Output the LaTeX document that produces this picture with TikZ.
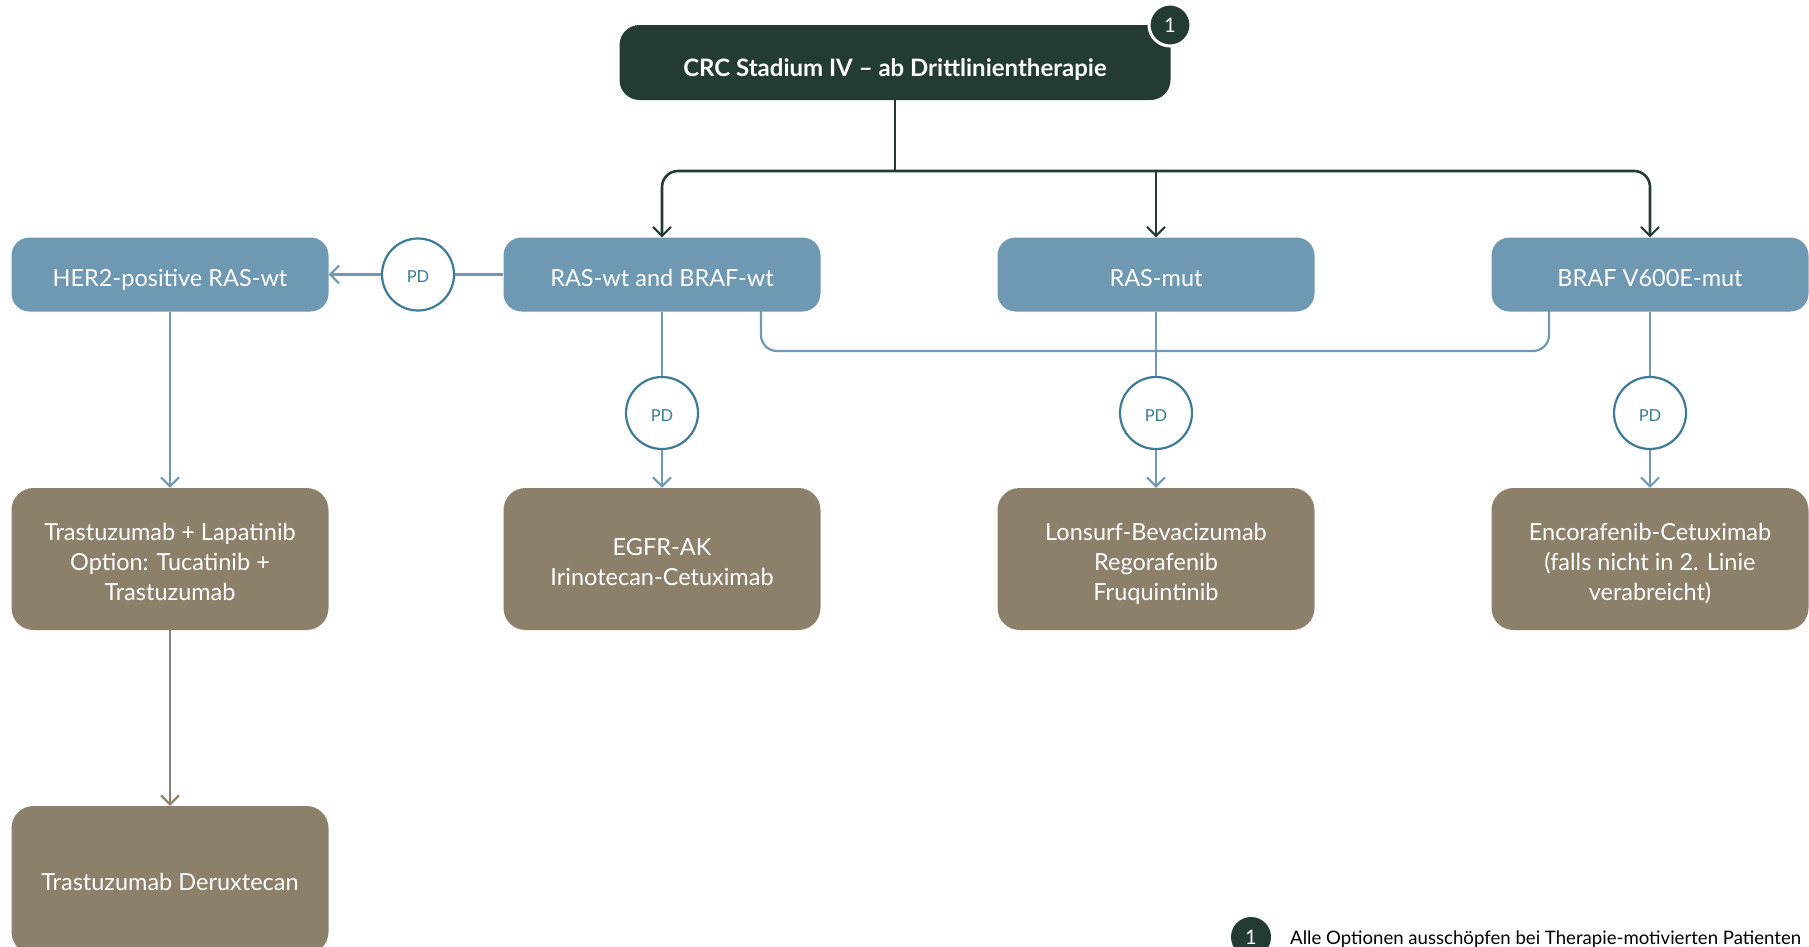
\documentclass[tikz,border=0pt]{standalone}
\usepackage{fontspec}
\setmainfont{Lato}
\usetikzlibrary{arrows.meta}
\definecolor{darkgreen}{HTML}{243B32}
\definecolor{boxblue}{HTML}{6F98B2}
\definecolor{boxbrown}{HTML}{8D806A}
\definecolor{pdblue}{HTML}{3D7B97}
% centred block of lines, set slightly below the middle of its box
\newcommand\boxlines[2][12pt]{\raisebox{-#1}[0pt][0pt]{\begin{tabular}{@{}c@{}}#2\end{tabular}}}
\begin{document}
\begin{tikzpicture}[x=1pt,y=-1pt,
  font=\fontsize{23.5}{30}\selectfont,
  tip/.tip={Straight Barb[length=9pt,width=18pt,line width=2pt]},
  headbox/.style={fill=darkgreen,text=white,rounded corners=20pt,minimum width=551pt,minimum height=75pt,inner sep=0pt,font=\fontsize{24}{30}\selectfont\bfseries},
  groupbox/.style={fill=boxblue,text=white,rounded corners=18pt,minimum width=317pt,minimum height=74pt,inner sep=0pt},
  therapybox/.style={fill=boxbrown,text=white,rounded corners=22pt,minimum width=317pt,minimum height=142pt,inner sep=0pt},
  pdnode/.style={circle,draw=pdblue,line width=2.2pt,fill=white,text=pdblue,minimum size=72pt,inner sep=0pt,font=\fontsize{16.5}{18}\selectfont},
  badge/.style={circle,fill=darkgreen,text=white,minimum size=42pt,inner sep=0pt,font=\fontsize{20}{22}\selectfont},
  darkline/.style={draw=darkgreen,line width=2.6pt,rounded corners=16pt},
  blueline/.style={draw=boxblue,line width=2.2pt,rounded corners=16pt},
  brownline/.style={draw=boxbrown,line width=2.2pt},
]
\useasboundingbox (0,0) rectangle (1809,946);
\clip (0,0) rectangle (1809,946);

% header
\node[headbox] (head) at (895,62.5) {\boxlines[14pt]{CRC Stadium IV – ab Drittlinientherapie}};
\node[badge,draw=white,line width=3pt] (badge) at (1170,25) {1};

% patient groups
\node[groupbox] (her2)   at (170,274.5)  {\boxlines[12pt]{HER2-positive RAS-wt}};
\node[groupbox] (raswt)  at (662,274.5)  {\boxlines[12pt]{RAS-wt and BRAF-wt}};
\node[groupbox] (rasmut) at (1156,274.5) {\boxlines[12pt]{RAS-mut}};
\node[groupbox] (braf)   at (1650,274.5) {\boxlines[12pt]{BRAF V600E-mut}};

% therapies
\node[therapybox] (tl)   at (170,559)  {\boxlines{Trastuzumab + Lapatinib\\Option: Tucatinib +\\Trastuzumab}};
\node[therapybox] (egfr) at (662,559)  {\boxlines{EGFR-AK\\Irinotecan-Cetuximab}};
\node[therapybox] (lons) at (1156,559) {\boxlines{Lonsurf-Bevacizumab\\Regorafenib\\Fruquintinib}};
\node[therapybox] (enco) at (1650,559) {\boxlines{Encorafenib-Cetuximab\\(falls nicht in 2. Linie\\verabreicht)}};
\node[therapybox,minimum height=148pt] (tdx) at (170,880) {\boxlines[11pt]{Trastuzumab Deruxtecan}};

% header branches
\coordinate (split) at (895,171);
\coordinate (midsplit) at (1156,171);
\draw[darkline] (head.south) -- (split);
\draw[darkline,-{tip}] (split) -| (raswt.north);
\draw[darkline,-{tip}] (split) -| (braf.north);
\draw[darkline,-{tip}] (midsplit) -- (rasmut.north);

% shared link below the groups
\coordinate (lnkA) at (761,311);
\coordinate (lnkB) at (1549,311);
\draw[blueline] (lnkA) -- (761,351) -- (1549,351) -- (lnkB);

% progression circles
\node[pdnode] (pd0) at (418,274.5) {\raisebox{-2.5pt}[\height][\depth]{PD}};
\node[pdnode] (pd1) at (662,413) {\raisebox{-2.5pt}[\height][\depth]{PD}};
\node[pdnode] (pd2) at (1156,413) {\raisebox{-2.5pt}[\height][\depth]{PD}};
\node[pdnode] (pd3) at (1650,413) {\raisebox{-2.5pt}[\height][\depth]{PD}};

\draw[blueline] (raswt.west) -- (pd0.east);
\draw[blueline,-{tip}] (pd0.west) -- (her2.east);
\draw[blueline] (raswt.south) -- (pd1.north);
\draw[blueline,-{tip}] (pd1.south) -- (egfr.north);
\draw[blueline] (rasmut.south) -- (pd2.north);
\draw[blueline,-{tip}] (pd2.south) -- (lons.north);
\draw[blueline] (braf.south) -- (pd3.north);
\draw[blueline,-{tip}] (pd3.south) -- (enco.north);
\draw[blueline,-{tip}] (her2.south) -- (tl.north);
\draw[brownline,-{tip}] (tl.south) -- (tdx.north);

% footnote
\node[badge,minimum size=40pt] (legbadge) at (1251,937) {1};
\node[anchor=base west,text=black,font=\fontsize{18.6}{22}\selectfont,inner sep=0pt] (legtext) at (1290,944) {Alle Optionen ausschöpfen bei Therapie-motivierten Patienten};
\end{tikzpicture}
\end{document}
